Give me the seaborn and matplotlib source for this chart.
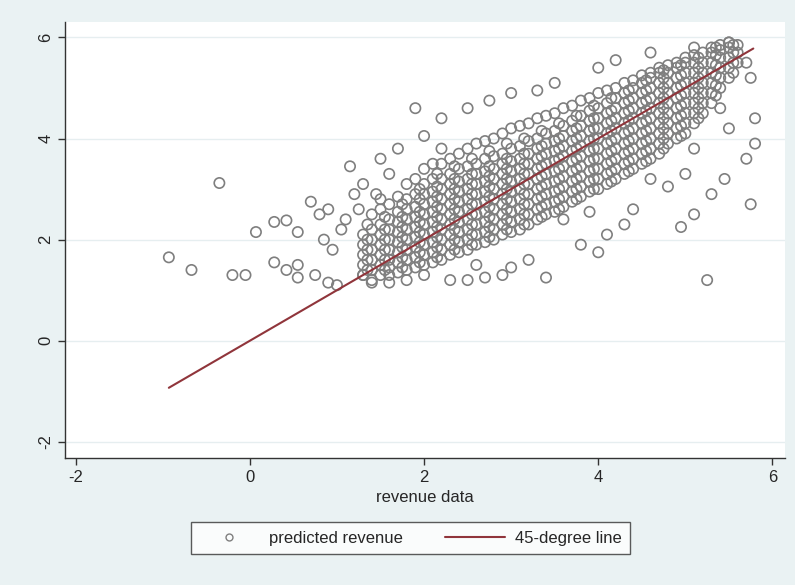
import matplotlib
matplotlib.use('Agg')
import matplotlib.pyplot as plt
import seaborn as sns
import pandas as pd

# Dense band of points, read column by column: (x, [y values])
band_columns = [
    (1.3, [1.3, 1.5, 1.7, 1.9, 2.1]),
    (1.4, [1.2, 1.4, 1.6, 1.8, 2.0, 2.2, 2.5]),
    (1.5, [1.3, 1.5, 1.7, 1.9, 2.1, 2.3, 2.6, 2.8]),
    (1.6, [1.3, 1.45, 1.6, 1.8, 2.0, 2.2, 2.4, 2.7]),
    (1.7, [1.35, 1.55, 1.75, 1.95, 2.15, 2.35, 2.55, 2.85]),
    (1.8, [1.4, 1.6, 1.8, 2.0, 2.2, 2.4, 2.6, 2.8, 3.1]),
    (1.9, [1.45, 1.65, 1.85, 2.05, 2.25, 2.45, 2.65, 2.9, 3.2]),
    (2.0, [1.5, 1.7, 1.9, 2.1, 2.3, 2.5, 2.7, 2.9, 3.1, 3.4]),
    (2.1, [1.55, 1.75, 1.95, 2.15, 2.35, 2.55, 2.75, 2.95, 3.2, 3.5]),
    (2.2, [1.6, 1.8, 2.0, 2.2, 2.4, 2.6, 2.8, 3.0, 3.2, 3.5, 3.8]),
    (2.3, [1.7, 1.9, 2.1, 2.3, 2.5, 2.7, 2.9, 3.1, 3.3, 3.6]),
    (2.4, [1.75, 1.95, 2.15, 2.35, 2.55, 2.75, 2.95, 3.15, 3.4, 3.7]),
    (2.5, [1.8, 2.0, 2.2, 2.4, 2.6, 2.8, 3.0, 3.2, 3.45, 3.8]),
    (2.6, [1.9, 2.1, 2.3, 2.5, 2.7, 2.9, 3.1, 3.3, 3.5, 3.9]),
    (2.7, [1.95, 2.15, 2.35, 2.55, 2.75, 2.95, 3.15, 3.35, 3.6, 3.95]),
    (2.8, [2.0, 2.2, 2.4, 2.6, 2.8, 3.0, 3.2, 3.4, 3.65, 4.0]),
    (2.9, [2.1, 2.3, 2.5, 2.7, 2.9, 3.1, 3.3, 3.5, 3.7, 4.1]),
    (3.0, [2.15, 2.35, 2.55, 2.75, 2.95, 3.15, 3.35, 3.55, 3.8, 4.2]),
    (3.1, [2.2, 2.4, 2.6, 2.8, 3.0, 3.2, 3.4, 3.6, 3.85, 4.25]),
    (3.2, [2.3, 2.5, 2.7, 2.9, 3.1, 3.3, 3.5, 3.7, 3.95, 4.3]),
    (3.3, [2.4, 2.6, 2.8, 3.0, 3.2, 3.4, 3.6, 3.8, 4.0, 4.4]),
    (3.4, [2.5, 2.7, 2.9, 3.1, 3.3, 3.5, 3.7, 3.9, 4.1, 4.45]),
    (3.5, [2.55, 2.75, 2.95, 3.15, 3.35, 3.55, 3.75, 3.95, 4.15, 4.5]),
    (3.6, [2.65, 2.85, 3.05, 3.25, 3.45, 3.65, 3.85, 4.05, 4.25, 4.6]),
    (3.7, [2.75, 2.95, 3.15, 3.35, 3.55, 3.75, 3.95, 4.15, 4.35, 4.65]),
    (3.8, [2.85, 3.05, 3.25, 3.45, 3.65, 3.85, 4.05, 4.25, 4.45, 4.75]),
    (3.9, [2.95, 3.15, 3.35, 3.55, 3.75, 3.95, 4.15, 4.35, 4.55, 4.8]),
    (4.0, [3.0, 3.2, 3.4, 3.6, 3.8, 4.0, 4.2, 4.4, 4.6, 4.9]),
    (4.1, [3.1, 3.3, 3.5, 3.7, 3.9, 4.1, 4.3, 4.5, 4.7, 4.95]),
    (4.2, [3.2, 3.4, 3.6, 3.8, 4.0, 4.2, 4.4, 4.6, 4.8, 5.0]),
    (4.3, [3.3, 3.5, 3.7, 3.9, 4.1, 4.3, 4.5, 4.7, 4.9, 5.1]),
    (4.4, [3.4, 3.6, 3.8, 4.0, 4.2, 4.4, 4.6, 4.8, 5.0, 5.15]),
    (4.5, [3.5, 3.7, 3.9, 4.1, 4.3, 4.5, 4.7, 4.9, 5.1, 5.25]),
    (4.6, [3.6, 3.8, 4.0, 4.2, 4.4, 4.6, 4.8, 5.0, 5.2, 5.3]),
    (4.7, [3.7, 3.9, 4.1, 4.3, 4.5, 4.7, 4.9, 5.1, 5.3, 5.4]),
    (4.8, [3.9, 4.1, 4.3, 4.5, 4.7, 4.9, 5.1, 5.3, 5.45]),
    (4.9, [4.0, 4.2, 4.4, 4.6, 4.8, 5.0, 5.2, 5.4, 5.5]),
    (5.0, [4.1, 4.3, 4.5, 4.7, 4.9, 5.1, 5.3, 5.5, 5.6]),
    (5.1, [4.3, 4.5, 4.7, 4.9, 5.1, 5.3, 5.5, 5.65]),
    (5.2, [4.5, 4.7, 4.9, 5.1, 5.3, 5.5, 5.7]),
    (5.3, [4.7, 4.9, 5.1, 5.3, 5.5, 5.7, 5.8]),
    (5.4, [5.0, 5.2, 5.4, 5.6, 5.75, 5.85]),
    (5.5, [5.2, 5.4, 5.6, 5.8, 5.9]),
    (5.6, [5.5, 5.7, 5.85]),
]

# Second, staggered pass through the same band
band_columns_b = [
    (1.35, [1.4, 1.6, 1.8, 2.0, 2.3]),
    (1.55, [1.4, 1.6, 1.8, 2.0, 2.2, 2.45]),
    (1.75, [1.45, 1.65, 1.85, 2.05, 2.25, 2.45, 2.7]),
    (1.95, [1.55, 1.75, 1.95, 2.15, 2.35, 2.55, 2.8, 3.0]),
    (2.15, [1.65, 1.85, 2.05, 2.25, 2.45, 2.65, 2.85, 3.05, 3.3]),
    (2.35, [1.8, 2.0, 2.2, 2.4, 2.6, 2.8, 3.0, 3.2, 3.45]),
    (2.55, [1.9, 2.1, 2.3, 2.5, 2.7, 2.9, 3.1, 3.3, 3.6]),
    (2.75, [2.05, 2.25, 2.45, 2.65, 2.85, 3.05, 3.25, 3.45, 3.75]),
    (2.95, [2.2, 2.4, 2.6, 2.8, 3.0, 3.2, 3.4, 3.6, 3.9]),
    (3.15, [2.3, 2.5, 2.7, 2.9, 3.1, 3.3, 3.5, 3.7, 4.0]),
    (3.35, [2.45, 2.65, 2.85, 3.05, 3.25, 3.45, 3.65, 3.85, 4.15]),
    (3.55, [2.6, 2.8, 3.0, 3.2, 3.4, 3.6, 3.8, 4.0, 4.3]),
    (3.75, [2.8, 3.0, 3.2, 3.4, 3.6, 3.8, 4.0, 4.2, 4.45]),
    (3.95, [3.0, 3.2, 3.4, 3.6, 3.8, 4.0, 4.2, 4.4, 4.65]),
    (4.15, [3.15, 3.35, 3.55, 3.75, 3.95, 4.15, 4.35, 4.55, 4.8]),
    (4.35, [3.35, 3.55, 3.75, 3.95, 4.15, 4.35, 4.55, 4.75, 4.95]),
    (4.55, [3.55, 3.75, 3.95, 4.15, 4.35, 4.55, 4.75, 4.95, 5.15]),
    (4.75, [3.8, 4.0, 4.2, 4.4, 4.6, 4.8, 5.0, 5.2, 5.35]),
    (4.95, [4.05, 4.25, 4.45, 4.65, 4.85, 5.05, 5.25, 5.45]),
    (5.15, [4.4, 4.6, 4.8, 5.0, 5.2, 5.4, 5.6]),
    (5.35, [4.85, 5.05, 5.25, 5.45, 5.65, 5.8]),
    (5.55, [5.3, 5.5, 5.7, 5.85]),
]

# Scattered outliers
out_x = [-0.93, -0.67, -0.35, -0.2, -0.05, 0.07, 0.28, 0.42, 0.55, 0.28, 0.42, 0.55,
         0.55, 0.7, 0.8, 0.9, 0.85, 0.95, 0.75, 0.9, 1.0, 1.1, 1.15, 1.2, 1.3, 1.5,
         1.6, 1.7, 1.9, 2.0, 2.2, 2.5, 2.75, 3.0, 3.3, 3.5, 4.0, 4.2, 4.6, 5.1, 5.5,
         5.7, 5.75, 5.8, 5.8, 5.7, 5.75, 5.25, 5.45, 5.3, 5.1, 5.0, 5.1, 4.95, 4.8,
         4.4, 4.3, 4.1, 4.0, 3.8, 3.6, 3.4, 3.2, 3.0, 2.9, 2.7, 2.5, 2.3, 2.0, 1.8,
         1.6, 1.4, 1.3, 5.5, 5.4, 5.3, 1.05, 1.25, 1.45, 2.6, 3.9, 4.6]
out_y = [1.65, 1.4, 3.12, 1.3, 1.3, 2.15, 2.35, 2.38, 2.15, 1.55, 1.4, 1.25,
         1.5, 2.75, 2.5, 2.6, 2.0, 1.8, 1.3, 1.15, 1.1, 2.4, 3.45, 2.9, 3.1, 3.6,
         3.3, 3.8, 4.6, 4.05, 4.4, 4.6, 4.75, 4.9, 4.95, 5.1, 5.4, 5.55, 5.7, 5.8, 5.9,
         5.5, 5.2, 4.4, 3.9, 3.6, 2.7, 1.2, 3.2, 2.9, 2.5, 3.3, 3.8, 2.25, 3.05,
         2.6, 2.3, 2.1, 1.75, 1.9, 2.4, 1.25, 1.6, 1.45, 1.3, 1.25, 1.2, 1.2, 1.3, 1.2,
         1.15, 1.15, 1.3, 4.2, 4.6, 4.9, 2.2, 2.6, 2.9, 1.5, 2.55, 3.2]

line_x = [-0.93, 5.78]
line_y = [-0.93, 5.78]

cols = band_columns + band_columns_b
xs = [x for x, ys in cols for _ in ys] + out_x
ys_all = [y for _, ys in cols for y in ys] + out_y
df = pd.DataFrame({'revenue': xs, 'predicted': ys_all})

BG = '#eaf2f3'
GRAY = '#7f7f7f'
MAROON = '#90353b'

sns.set_theme(style='white')
plt.rcParams['font.family'] = ['Liberation Sans', 'DejaVu Sans']

fig = plt.figure(figsize=(7.95, 5.85), dpi=100, facecolor=BG)
ax = fig.add_axes([0.082, 0.217, 0.905, 0.745])
ax.set_facecolor('white')

sns.scatterplot(data=df, x='revenue', y='predicted', ax=ax, marker='o', s=55,
                facecolors='none', edgecolor=GRAY, linewidth=1.2, zorder=2)
sns.lineplot(x=line_x, y=line_y, ax=ax, color=MAROON, linewidth=1.5, zorder=3)

ticks = [-2, 0, 2, 4, 6]
ax.set_xlim(-2.12, 6.14)
ax.set_ylim(-2.32, 6.3)
ax.set_xticks(ticks)
ax.set_xticklabels([str(t) for t in ticks])
ax.set_yticks(ticks)
ax.set_yticklabels([str(t) for t in ticks], rotation=90, va='center')
for y in ticks:
    ax.axhline(y, color='#e6eef0', linewidth=1, zorder=1)
for s in ['top', 'right']:
    ax.spines[s].set_visible(False)
for s in ['left', 'bottom']:
    ax.spines[s].set_color('#333333')
    ax.spines[s].set_linewidth(1)
ax.tick_params(axis='both', length=5, width=1, color='#333333', labelsize=12,
               direction='out', bottom=True, left=True)
ax.set_xlabel('revenue data', fontsize=12)
ax.set_ylabel('')

h_pt = plt.Line2D([], [], marker='o', linestyle='none', markerfacecolor='none',
                  markeredgecolor=GRAY, markersize=5)
h_ln = plt.Line2D([], [], color=MAROON, linewidth=1.5)
leg = fig.legend([h_pt, h_ln], ['predicted revenue', '45-degree line'],
                 loc='center', bbox_to_anchor=(0.516, 0.08), ncol=2, fontsize=12,
                 frameon=True, fancybox=False, handlelength=3.6, handletextpad=0.6,
                 columnspacing=2.5, borderpad=0.5)
leg.get_frame().set_edgecolor('#333333')
leg.get_frame().set_facecolor('white')

plt.savefig('out.png', dpi=100, facecolor=BG)
